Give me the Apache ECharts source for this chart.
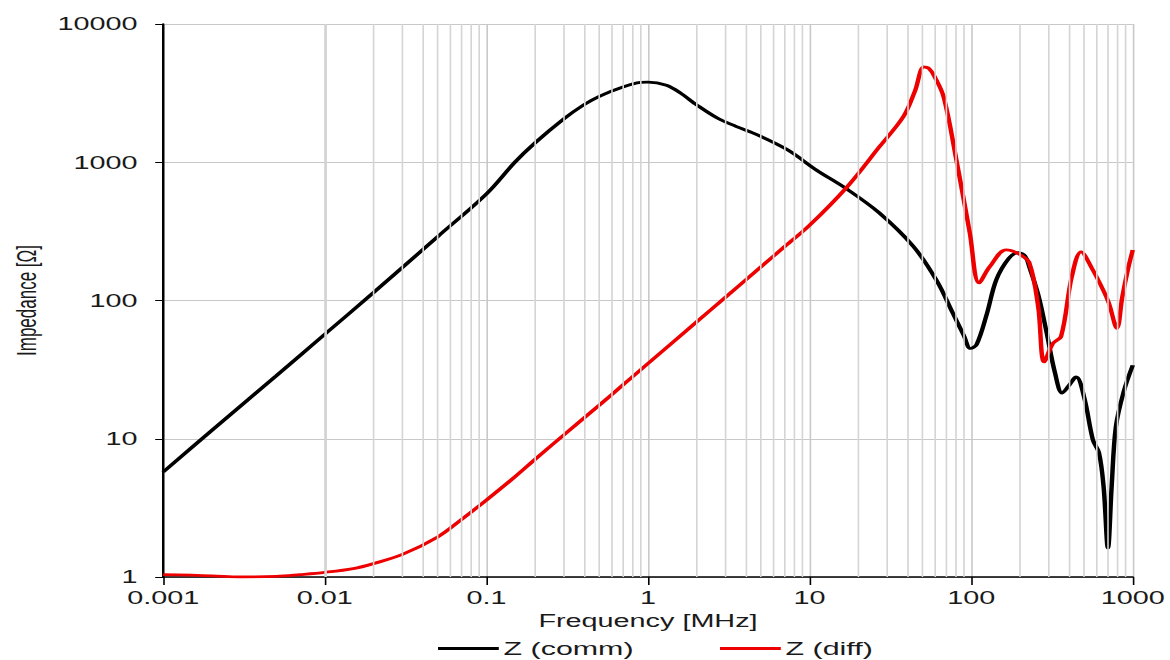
<!DOCTYPE html>
<html><head><meta charset="utf-8">
<script src="https://cdn.jsdelivr.net/npm/echarts@6/dist/echarts.min.js"></script>
<style>
html,body{margin:0;padding:0;background:#fff;overflow:hidden}
#wrap{width:1170px;height:660px;overflow:hidden}
#c{width:731.25px;height:660px;transform:scaleX(1.6);transform-origin:0 0}
</style>
</head><body><div id="wrap"><div id="c"></div></div>
<script>
// Frequency [MHz] and impedance [Ohm]
const freqComm = [0.001,0.002,0.005,0.01,0.02,0.05,0.1,0.15,0.2,0.3,0.4,0.5,0.7,0.9,1.0,1.3,1.6,2,2.7,3.5,4.8,7.3,11,17,27,44,61,77,90,99,108,125,143,170,195,215,229,260,291,330,366,400,446,500,567,618,660,702,740,786,880,1000];
const zComm    = [5.75,11.5,28.5,57,114,290,590,1000,1380,2050,2600,3000,3500,3780,3800,3600,3150,2600,2080,1820,1570,1230,880,640,430,245,140,81,56,45,48,80,141,200,222,210,175,110,61,30,21.4,24,28,20,9.8,7.9,4.5,1.62,4.5,12.2,22,34];
const freqDiff = [0.001,0.002,0.003,0.005,0.007,0.01,0.015,0.02,0.03,0.05,0.07,0.1,0.15,0.2,0.3,0.5,0.7,1,2,3,5,7,10,17,27,38,45,51,55,59.5,67.6,81,98,112,130,165,200,229,260,283,321,360,420,479,560,654,711,798,860,930,1000];
const zDiff    = [1.04,1.02,1.0,1.01,1.04,1.08,1.15,1.25,1.45,1.95,2.6,3.6,5.3,7.1,10.6,17.5,24.5,35,70,105,175,245,350,660,1290,2130,3300,4900,4750,4150,2960,1040,310,134,175,232,215,187,90,36,49,55,150,225,170,120,96,63,105,165,232];
const yTickLabels = ['1','10','100','1000','10000'];
const xTickLabels = ['0.001','0.01','0.1','1','10','100','1000'];
const seriesNames = ['Z (comm)','Z (diff)'];

const minorX = [];
for (let e = -3; e < 3; e++) for (let m = 2; m <= 9; m++) minorX.push(m * Math.pow(10, e));

const zip = (a, b) => a.map((v, i) => [v, b[i]]);
const chart = echarts.init(document.getElementById('c'), null, {renderer: 'svg'});
const txt = '#1a1a1a';
const font = 'Liberation Sans, Arial, sans-serif';
chart.setOption({
  backgroundColor: '#fff',
  animation: false,
  grid: {left: 98.9, right: 13.8, top: 24, bottom: 83, containLabel: false},
  legend: {
    left: 273.75, top: 639, padding: 0, itemGap: 54, itemWidth: 38, itemHeight: 3, icon: 'rect',
    textStyle: {fontFamily: font, fontSize: 19, color: txt, padding: [0, 0, 0, -2]},
    data: seriesNames
  },
  xAxis: {
    type: 'log', logBase: 10, min: 0.001, max: 1000,
    name: 'Frequency [MHz]', nameLocation: 'middle', nameGap: 32,
    nameTextStyle: {fontFamily: font, fontSize: 18, color: txt},
    axisLine: {show: true, onZero: false, lineStyle: {color: '#000', width: 1.5}},
    axisTick: {show: true, inside: false, length: 8, lineStyle: {color: '#000'}},
    axisLabel: {margin: 12, fontFamily: font, fontSize: 18, color: txt,
      formatter: v => xTickLabels[Math.round(Math.log10(v)) + 3]},
    splitLine: {show: true, lineStyle: {color: '#c8c8c8', width: 1}}
  },
  yAxis: {
    type: 'log', logBase: 10, min: 1, max: 10000,
    name: 'Impedance [Ω]', nameLocation: 'middle', nameGap: 77, nameRotate: 90,
    nameTextStyle: {fontFamily: font, fontSize: 17, color: txt},
    axisLine: {show: true, lineStyle: {color: '#000', width: 1.5}},
    axisTick: {show: true, inside: false, length: 5, lineStyle: {color: '#000'}},
    axisLabel: {margin: 16, fontFamily: font, fontSize: 18, color: txt,
      formatter: v => yTickLabels[Math.round(Math.log10(v))]},
    splitLine: {show: true, lineStyle: {color: '#c8c8c8', width: 1}}
  },
  series: [
    {
      type: 'line', name: '_grid', silent: true, data: [], symbol: 'none',
      markLine: {silent: true, symbol: 'none', label: {show: false},
        lineStyle: {color: '#d4d4d4', width: 1, type: 'solid'},
        data: minorX.map(v => ({xAxis: v}))}
    },
    {
      type: 'line', name: seriesNames[0], data: zip(freqComm, zComm), symbol: 'none',
      smooth: 0.35, lineStyle: {color: '#000', width: 2.8}, itemStyle: {color: '#000'}, z: 3
    },
    {
      type: 'line', name: seriesNames[1], data: zip(freqDiff, zDiff), symbol: 'none',
      smooth: 0.35, lineStyle: {color: '#ee0000', width: 2.8}, itemStyle: {color: '#ee0000'}, z: 4
    }
  ]
});
</script></body></html>
